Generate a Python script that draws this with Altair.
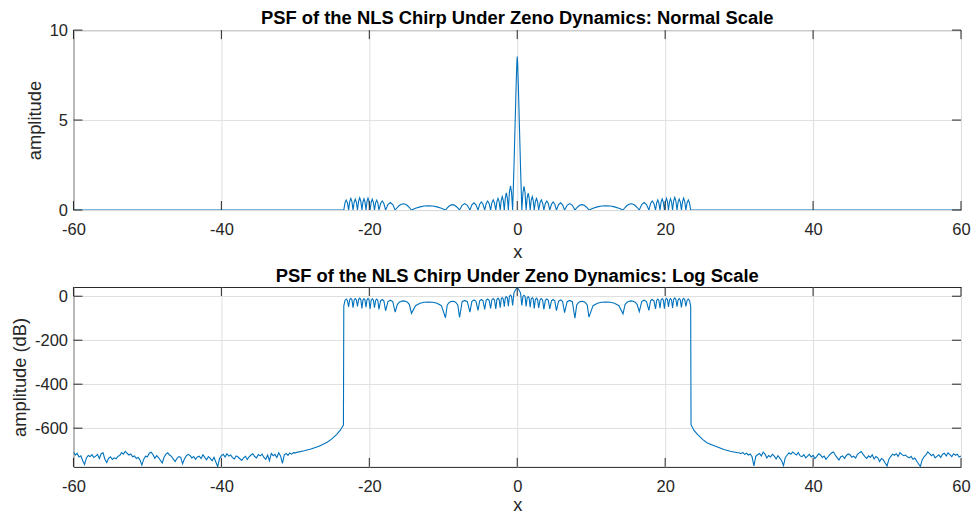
import altair as alt
import numpy as np
import pandas as pd

# ---------------- data ----------------
x_ticks = [-60, -40, -20, 0, 20, 40, 60]
amp_ticks = [0, 5, 10]
db_ticks = [-600, -400, -200, 0]

# central region, left half (x, amplitude, dB)
cl_x = [-23.45, -23.29, -23.13, -22.96,
        -22.8, -22.65, -22.5, -22.35,
        -22.2, -22.05, -21.9, -21.75,
        -21.6, -21.45, -21.3, -21.15,
        -21.0, -20.86, -20.72, -20.59,
        -20.45, -20.31, -20.18, -20.04,
        -19.9, -19.75, -19.6, -19.45,
        -19.3, -19.15, -19.0, -18.85,
        -18.7, -18.48, -18.25, -18.03,
        -17.8, -17.48, -17.15, -16.83,
        -16.5, -16.22, -15.95, -15.68, -15.4, -15.12, -14.85, -14.58,
        -14.3, -13.75, -13.15, -12.6, -12.0, -11.4, -10.85, -10.25,
        -9.7, -9.46, -9.23, -8.99, -8.75, -8.51, -8.28, -8.04,
        -7.8, -7.45, -7.1, -6.75,
        -6.4, -6.13, -5.85, -5.58,
        -5.3, -5.08, -4.85, -4.63,
        -4.4, -4.2, -4.0, -3.8,
        -3.6, -3.43, -3.25, -3.08,
        -2.9, -2.75, -2.6, -2.45,
        -2.3, -2.16, -2.03, -1.89,
        -1.75, -1.61, -1.48, -1.34,
        -1.2, -1.06, -0.91, -0.77,
        -0.62, -0.45, -0.3, -0.15, -0.05, 0.0]
cl_amp = [0, .40, .55, .40,
          0, .47, .65, .47,
          0, .43, .60, .43,
          0, .49, .68, .49,
          0, .45, .62, .45,
          0, .48, .66, .48,
          0, .43, .60, .43,
          0, .40, .55, .40,
          0, .36, .50, .36,
          0, .30, .42, .30,
          0, .14, .25, .32, .35, .32, .25, .14,
          0, .10, .175, .225, .24, .225, .175, .10,
          0, .12, .21, .28, .30, .28, .21, .12,
          0, .26, .36, .26,
          0, .29, .40, .29,
          0, .32, .45, .32,
          0, .36, .50, .36,
          0, .40, .56, .40,
          0, .47, .65, .47,
          0, .54, .75, .54,
          0, .68, .95, .68,
          0, .97, 1.35, .97,
          0, 2.3, 4.6, 6.9, 8.2, 8.53]
cl_db = [-45, -19, -13, -19,
         -48, -16, -10, -16,
         -52, -17, -11, -17,
         -46, -15, -9, -15,
         -55, -17, -11, -17,
         -50, -16, -10, -16,
         -58, -18, -12, -18,
         -52, -19, -13, -19,
         -60, -21, -15, -21,
         -66, -24, -18, -24,
         -72, -38, -27, -22.5, -21, -22.5, -27, -38,
         -78, -43, -32, -27.5, -26, -27.5, -32, -43,
         -98, -40, -29, -24.5, -23, -24.5, -29, -40,
         -96, -25, -19, -25,
         -72, -23, -17, -23,
         -64, -21, -15, -21,
         -60, -19, -13, -19,
         -55, -17, -11, -17,
         -58, -15, -9, -15,
         -52, -12, -6, -12,
         -48, -8, -2, -8,
         -45, -1, 5, -1,
         -42, 14, 25, 33, 38, 41]

# central region, right half
cr_x = [0.05, 0.15, 0.3, 0.45, 0.62,
        0.77, 0.91, 1.06, 1.2,
        1.34, 1.48, 1.61, 1.75,
        1.89, 2.03, 2.16, 2.3,
        2.45, 2.6, 2.75, 2.9,
        3.08, 3.25, 3.43, 3.6,
        3.8, 4.0, 4.2, 4.4,
        4.63, 4.85, 5.08, 5.3,
        5.58, 5.85, 6.13, 6.4,
        6.75, 7.1, 7.45, 7.8,
        8.04, 8.28, 8.51, 8.75, 8.99, 9.23, 9.46, 9.7,
        10.25, 10.85, 11.4, 12.0, 12.6, 13.15, 13.75, 14.3,
        14.58, 14.85, 15.12, 15.4, 15.68, 15.95, 16.22, 16.5,
        16.83, 17.15, 17.48, 17.8,
        18.03, 18.25, 18.48, 18.7,
        18.85, 19.0, 19.15, 19.3,
        19.45, 19.6, 19.75, 19.9,
        20.04, 20.18, 20.31, 20.45,
        20.59, 20.72, 20.86, 21.0,
        21.15, 21.3, 21.45, 21.6,
        21.75, 21.9, 22.05, 22.2,
        22.35, 22.5, 22.65, 22.8,
        22.96, 23.13, 23.29, 23.45]
cr_amp = [8.2, 6.9, 4.6, 2.3, 0,
          .95, 1.32, .95, 0,
          .68, .94, .68, 0,
          .54, .75, .54, 0,
          .46, .64, .46, 0,
          .40, .56, .40, 0,
          .36, .50, .36, 0,
          .32, .45, .32, 0,
          .29, .40, .29, 0,
          .26, .36, .26, 0,
          .12, .21, .28, .30, .28, .21, .12, 0,
          .10, .175, .225, .24, .225, .175, .10, 0,
          .14, .25, .32, .35, .32, .25, .14, 0,
          .30, .42, .30, 0,
          .36, .50, .36, 0,
          .40, .56, .40, 0,
          .44, .62, .44, 0,
          .47, .65, .47, 0,
          .46, .63, .46, 0,
          .50, .70, .50, 0,
          .44, .61, .44, 0,
          .47, .66, .47, 0,
          .40, .56, .40, 0]
cr_db = [38, 33, 25, 14, -42,
         -1, 4.5, -1, -46,
         -8, -2, -8, -50,
         -12, -6, -12, -55,
         -15, -9, -15, -53,
         -17, -11, -17, -60,
         -19, -13, -19, -58,
         -21, -15, -21, -66,
         -23, -17, -23, -75,
         -25, -19, -25, -100,
         -40, -29, -24.5, -23, -24.5, -29, -40, -95,
         -43, -32, -27.5, -26, -27.5, -32, -43, -80,
         -38, -27, -22.5, -21, -22.5, -27, -38, -70,
         -24, -18, -24, -64,
         -21, -15, -21, -58,
         -19, -13, -19, -54,
         -17, -11, -17, -57,
         -16, -10, -16, -49,
         -17, -11, -17, -53,
         -15, -8, -15, -47,
         -17, -11, -17, -51,
         -16, -10, -16, -46,
         -19, -13, -19, -45]

# roll-off tails (dB)
tail_left_x = [-29.8, -28.8, -27.9, -26.8, -25.7, -25.1, -24.4, -23.9, -23.5]
tail_left_db = [-710, -703, -695, -682, -664, -650, -628, -608, -586]
tail_right_x = [23.5, 23.9, 24.4, 25.1, 25.7, 26.8, 27.95, 28.8, 29.8]
tail_right_db = [-584, -610, -629, -652, -667, -682, -697, -705, -712]

# noise floor (dB), sampled every 0.25 from -60 to -30 and from 30 to 60
noise_left_db = [
    -708, -722, -715, -731, -726, -748, -765, -735, -724, -729,
    -720, -733, -727, -719, -738, -716, -712, -741, -756, -737,
    -730, -742, -735, -739, -728, -724, -711, -718, -705, -714,
    -722, -717, -730, -726, -738, -733, -745, -768, -741, -727,
    -730, -714, -709, -720, -737, -725, -734, -746, -758, -732,
    -718, -712, -722, -728, -741, -752, -737, -729, -733, -762,
    -740, -726, -719, -724, -735, -729, -742, -731, -727, -738,
    -721, -733, -744, -729, -737, -748, -732, -754, -775, -738,
    -725, -719, -731, -716, -727, -722, -734, -740, -726, -731,
    -739, -747, -735, -728, -742, -730, -722, -716, -729, -735,
    -720, -726, -718, -733, -741, -722, -748, -715, -725, -719,
    -733, -712, -726, -760, -721, -715, -724, -713, -718, -711, -712]
noise_right_db = [
    -712, -716, -710, -719, -714, -722, -717, -730, -772, -728,
    -721, -715, -726, -709, -718, -735, -724, -731, -719, -727,
    -740, -725, -736, -748, -770, -733, -722, -712, -718, -708,
    -716, -722, -711, -726, -729, -720, -735, -727, -719, -731,
    -724, -738, -728, -716, -722, -733, -727, -741, -731, -720,
    -713, -708, -722, -734, -745, -730, -726, -738, -724, -717,
    -721, -732, -727, -736, -719, -712, -706, -718, -729, -737,
    -726, -733, -721, -740, -729, -735, -752, -738, -744, -758,
    -772, -741, -729, -718, -723, -716, -728, -711, -719, -725,
    -722, -730, -735, -728, -741, -736, -749, -762, -774, -744,
    -730, -722, -708, -716, -725, -719, -735, -728, -721, -733,
    -718, -714, -726, -712, -720, -729, -716, -723, -718, -731, -727]
noise_left_x = np.linspace(-60, -30, len(noise_left_db))
noise_right_x = np.linspace(30, 60, len(noise_right_db))

# ---------------- tables ----------------
top_df = pd.DataFrame({
    "x": [-60.0] + cl_x + cr_x + [60.0],
    "amp": [0.0] + cl_amp + cr_amp + [0.0],
})
bot_df = pd.DataFrame({
    "x": list(noise_left_x) + tail_left_x + cl_x + cr_x + tail_right_x + list(noise_right_x),
    "db": noise_left_db + tail_left_db + cl_db + cr_db + tail_right_db + noise_right_db,
})

W, H = 888, 180
AX = "#262626"
FONT = "Liberation Sans"
TICK = 9


def panel(df, ycol, ydom, yticks, ytitle, title, title_offset, x_title_pad):
    xs = alt.Scale(domain=[-60, 60], nice=False, zero=False)
    ys = alt.Scale(domain=ydom, nice=False, zero=False)
    common = dict(grid=True, gridColor="#dfdfdf", gridWidth=1, ticks=False, domain=False,
                  labelFontSize=16.5, labelColor=AX, labelFont=FONT,
                  titleFontSize=18.3, titleFontWeight="normal", titleColor=AX, titleFont=FONT,
                  labelFlush=False, labelExpr="datum.value + ''")
    xaxis = alt.Axis(values=x_ticks, title="x", labelPadding=11.5, titlePadding=x_title_pad, **common)
    yaxis = alt.Axis(values=yticks, title=ytitle, labelPadding=6, titlePadding=5, **common)
    line = alt.Chart(df).mark_line(color="#0072BD", strokeWidth=1.1, clip=True).encode(
        x=alt.X("x:Q", scale=xs, axis=xaxis),
        y=alt.Y(f"{ycol}:Q", scale=ys, axis=yaxis),
    )
    xt = pd.DataFrame({"x": x_ticks})
    yt = pd.DataFrame({ycol: yticks})
    tb = alt.Chart(xt).mark_rule(color=AX, strokeWidth=1).encode(
        x=alt.X("x:Q", scale=xs, axis=xaxis), y=alt.value(H - TICK), y2=alt.value(H))
    tt = alt.Chart(xt).mark_rule(color=AX, strokeWidth=1).encode(
        x=alt.X("x:Q", scale=xs, axis=xaxis), y=alt.value(0), y2=alt.value(TICK))
    tl = alt.Chart(yt).mark_rule(color=AX, strokeWidth=1).encode(
        y=alt.Y(f"{ycol}:Q", scale=ys, axis=yaxis), x=alt.value(0), x2=alt.value(TICK))
    tr = alt.Chart(yt).mark_rule(color=AX, strokeWidth=1).encode(
        y=alt.Y(f"{ycol}:Q", scale=ys, axis=yaxis), x=alt.value(W - TICK), x2=alt.value(W))
    return alt.layer(line, tb, tt, tl, tr).properties(
        width=W, height=H,
        title=alt.TitleParams(title, fontSize=18.4, fontWeight="bold", font=FONT,
                              color="#000000", offset=title_offset, anchor="middle",
                              frame="group"),
    )


top = panel(top_df, "amp", [0, 10], amp_ticks, "amplitude",
            "PSF of the NLS Chirp Under Zeno Dynamics: Normal Scale", -5.7, 5)
bottom = panel(bot_df, "db", [-776, 42], db_ticks, "amplitude (dB)",
               "PSF of the NLS Chirp Under Zeno Dynamics: Log Scale", 1.3, 1.5)

chart = alt.vconcat(top, bottom, spacing=5).properties(
    padding={"left": 1.5, "top": 0, "right": 0, "bottom": 0},
    background="white",
).configure_view(stroke=AX, strokeWidth=1)

chart.save("out.html", embed_options={"renderer": "svg", "actions": False})
